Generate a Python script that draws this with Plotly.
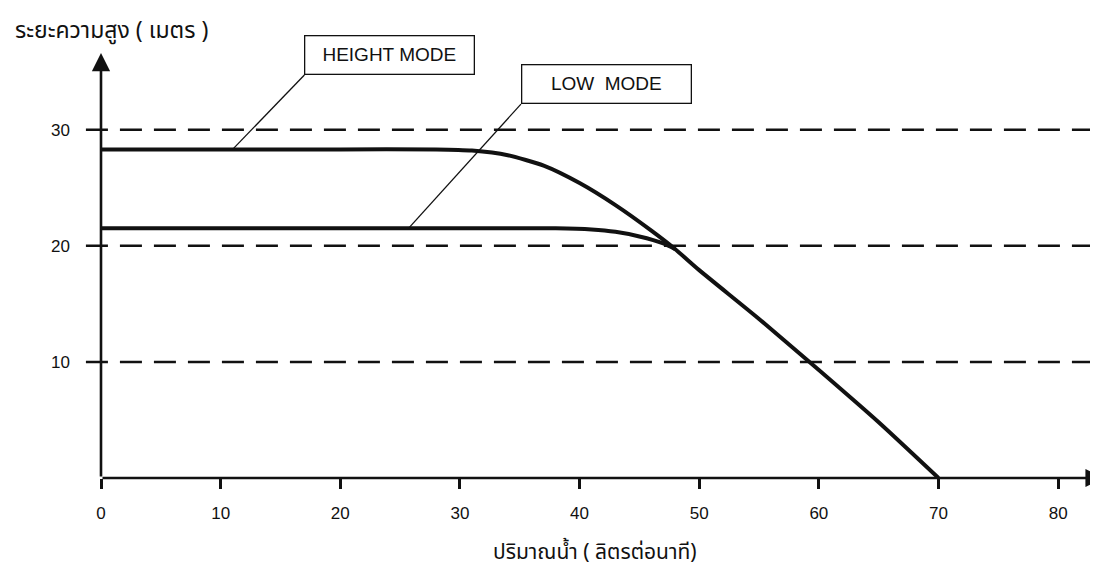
import plotly.graph_objects as go

# ---- data ----
height_x = [0, 10, 20, 28, 31, 34, 37, 40, 43, 46, 48, 50, 55, 60, 65, 70]
height_y = [28.3, 28.3, 28.3, 28.3, 28.2, 27.8, 26.9, 25.4, 23.5, 21.3, 19.7, 17.9, 13.7, 9.3, 4.8, 0]
low_x = [0, 10, 20, 30, 38, 41, 43, 45, 47, 48]
low_y = [21.5, 21.5, 21.5, 21.5, 21.5, 21.4, 21.2, 20.8, 20.2, 19.7]
x_ticks = [0, 10, 20, 30, 40, 50, 60, 70, 80]
y_ticks = [10, 20, 30]
grid_levels = [10, 20, 30]
labels = ["HEIGHT MODE", "LOW  MODE"]
label_box_xy = [(17.0, 34.7), (35.1, 32.2)]
label_target_xy = [(11.0, 28.3), (25.7, 21.5)]
x_title = "ปริมาณน้ำ ( ลิตรต่อนาที)"
y_title = "ระยะความสูง ( เมตร )"

FONT = "Liberation Sans, Arial, sans-serif"
THAI = "Tahoma, Noto Sans Thai, Loma, Garuda, Noto Sans, DejaVu Sans, sans-serif"
INK = "#111"

fig = go.Figure()
for xs, ys in ((height_x, height_y), (low_x, low_y)):
    fig.add_trace(go.Scatter(x=xs, y=ys, mode="lines",
                             line=dict(color=INK, width=4, shape="spline", smoothing=0.6),
                             showlegend=False, hoverinfo="skip", cliponaxis=False))

shapes = []
for g in grid_levels:
    shapes.append(dict(type="line", xref="paper", yref="y", x0=-0.015, x1=1, y0=g, y1=g,
                       line=dict(color=INK, width=2.5, dash="22px,12px"), layer="below"))
for (bx, by), (tx, ty) in zip(label_box_xy, label_target_xy):
    shapes.append(dict(type="line", xref="x", yref="y", x0=bx, y0=by, x1=tx, y1=ty,
                       line=dict(color=INK, width=1.3)))

annotations = []
for text, (bx, by) in zip(labels, label_box_xy):
    annotations.append(dict(x=bx, y=by, xref="x", yref="y", xanchor="left", yanchor="bottom",
                            text=text, showarrow=False, width=166, height=35, borderpad=1,
                            bordercolor=INK, borderwidth=1.3, bgcolor="white",
                            font=dict(family=FONT, size=19, color=INK)))
# axis arrows
annotations.append(dict(x=0, y=36.6, ax=0, ay=0, xref="x", yref="y", axref="x", ayref="y",
                        showarrow=True, arrowhead=2, arrowsize=1.4, arrowwidth=2.6,
                        arrowcolor=INK, text=""))
annotations.append(dict(x=83.8, y=0, ax=0, ay=0, xref="x", yref="y", axref="x", ayref="y",
                        showarrow=True, arrowhead=2, arrowsize=1.4, arrowwidth=2.6,
                        arrowcolor=INK, text=""))
annotations.append(dict(xref="paper", yref="paper", x=-0.088, y=1.052, xanchor="left",
                        yanchor="middle", text=y_title, showarrow=False,
                        font=dict(family=THAI, size=23, color=INK)))
annotations.append(dict(xref="paper", yref="paper", x=0.492, y=-0.176, xanchor="center",
                        yanchor="middle", text=x_title, showarrow=False,
                        font=dict(family=THAI, size=21, color=INK)))

fig.update_layout(
    width=1098, height=568,
    margin=dict(l=93, r=0, t=45, b=98),
    plot_bgcolor="white", paper_bgcolor="white",
    shapes=shapes, annotations=annotations,
    xaxis=dict(range=[0, 84], tickvals=x_ticks, ticks="outside", ticklen=10, tickwidth=2.5,
               tickcolor=INK, showgrid=False, zeroline=False, showline=False,
               ticklabelstandoff=10, tickfont=dict(family=FONT, size=17, color=INK)),
    yaxis=dict(range=[0, 36.6], tickvals=y_ticks, ticks="", showgrid=False, zeroline=False,
               showline=False, ticklabelstandoff=30,
               tickfont=dict(family=FONT, size=17, color=INK)),
)

fig.write_html("out.html")
